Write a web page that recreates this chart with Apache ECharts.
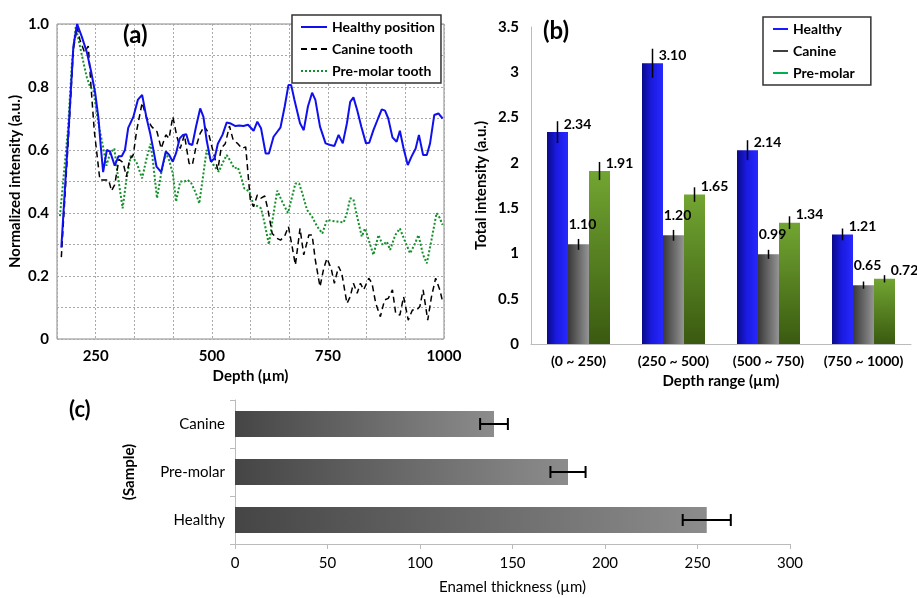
<!DOCTYPE html>
<html>
<head>
<meta charset="utf-8">
<script src="https://cdn.jsdelivr.net/npm/echarts@6/dist/echarts.min.js"></script>
<style>
  html, body { margin: 0; padding: 0; background: #fff; }
  #main { width: 917px; height: 598px; }
</style>
</head>
<body>
<div id="main"></div>
<script>
// (a) normalized intensity vs depth, [depth µm, intensity]
var healthyPosition = [[176,0.29],[193,0.70],[202,0.93],[210,1.0],[220,0.96],[231,0.91],[240,0.85],[249,0.78],[256,0.70],[261,0.61],[266,0.53],[274,0.60],[281,0.595],[291,0.55],[299,0.58],[306,0.58],[313,0.60],[320,0.67],[331,0.705],[341,0.76],[350,0.775],[359,0.705],[367,0.655],[373,0.61],[381,0.547],[391,0.53],[401,0.595],[408,0.585],[416,0.563],[423,0.59],[431,0.637],[438,0.648],[445,0.65],[451,0.62],[458,0.616],[466,0.674],[475,0.732],[482,0.705],[489,0.63],[498,0.563],[506,0.574],[513,0.62],[523,0.648],[532,0.687],[541,0.684],[551,0.676],[559,0.678],[568,0.676],[578,0.68],[590,0.661],[598,0.69],[606,0.669],[616,0.589],[623,0.589],[633,0.642],[641,0.658],[648,0.672],[657,0.738],[665,0.806],[671,0.806],[678,0.759],[690,0.685],[698,0.663],[707,0.738],[716,0.782],[723,0.759],[733,0.674],[745,0.621],[755,0.616],[764,0.613],[773,0.648],[782,0.621],[791,0.685],[798,0.753],[805,0.767],[813,0.727],[822,0.674],[832,0.621],[839,0.623],[848,0.663],[858,0.70],[866,0.729],[873,0.725],[880,0.70],[889,0.64],[898,0.626],[905,0.661],[913,0.605],[922,0.552],[930,0.579],[939,0.605],[946,0.648],[955,0.584],[963,0.584],[970,0.621],[979,0.711],[988,0.716],[997,0.70]];
var canineTooth = [[176,0.26],[193,0.68],[202,0.92],[210,0.99],[216,0.95],[226,0.91],[234,0.93],[240,0.80],[247,0.66],[254,0.57],[259,0.505],[270,0.505],[278,0.505],[284,0.47],[291,0.49],[300,0.57],[309,0.56],[316,0.515],[323,0.57],[331,0.585],[338,0.66],[350,0.75],[359,0.705],[370,0.675],[382,0.658],[391,0.605],[401,0.648],[408,0.637],[416,0.706],[425,0.642],[432,0.605],[441,0.648],[451,0.558],[458,0.552],[466,0.61],[475,0.653],[484,0.676],[493,0.653],[502,0.60],[513,0.537],[520,0.605],[529,0.62],[538,0.676],[546,0.632],[556,0.62],[565,0.605],[573,0.61],[583,0.44],[590,0.42],[598,0.457],[606,0.447],[614,0.454],[621,0.41],[630,0.335],[640,0.32],[648,0.314],[657,0.327],[665,0.357],[673,0.293],[680,0.235],[690,0.351],[698,0.267],[709,0.33],[716,0.33],[723,0.25],[733,0.166],[741,0.224],[748,0.256],[757,0.224],[764,0.177],[773,0.23],[780,0.208],[791,0.113],[798,0.134],[805,0.177],[813,0.145],[820,0.177],[827,0.156],[838,0.193],[845,0.177],[853,0.113],[863,0.071],[872,0.124],[880,0.129],[889,0.156],[896,0.081],[905,0.076],[913,0.134],[923,0.06],[932,0.092],[941,0.092],[948,0.103],[955,0.156],[965,0.06],[973,0.134],[982,0.193],[991,0.156],[997,0.119]];
var premolarTooth = [[173,0.39],[190,0.66],[199,0.88],[207,0.99],[216,0.93],[224,0.875],[231,0.83],[238,0.80],[245,0.79],[252,0.72],[259,0.66],[266,0.61],[273,0.55],[281,0.59],[290,0.605],[298,0.515],[308,0.415],[316,0.505],[326,0.585],[338,0.56],[350,0.51],[359,0.57],[368,0.62],[373,0.568],[382,0.447],[391,0.526],[401,0.59],[408,0.568],[416,0.526],[423,0.436],[432,0.50],[441,0.50],[448,0.505],[456,0.494],[466,0.462],[473,0.43],[481,0.515],[489,0.60],[498,0.568],[506,0.547],[515,0.531],[523,0.558],[532,0.584],[541,0.563],[548,0.542],[556,0.545],[563,0.515],[570,0.478],[581,0.468],[590,0.425],[598,0.422],[606,0.415],[613,0.372],[623,0.30],[633,0.40],[641,0.471],[650,0.441],[657,0.42],[664,0.40],[673,0.452],[680,0.494],[688,0.494],[695,0.462],[705,0.41],[716,0.388],[727,0.357],[738,0.335],[748,0.378],[759,0.375],[770,0.373],[784,0.37],[791,0.40],[798,0.447],[805,0.443],[813,0.388],[823,0.325],[830,0.351],[839,0.309],[848,0.267],[859,0.33],[868,0.298],[877,0.309],[884,0.283],[895,0.33],[905,0.351],[915,0.314],[927,0.272],[936,0.298],[945,0.33],[955,0.267],[963,0.24],[973,0.314],[984,0.40],[991,0.384],[997,0.362]];

// (b) total intensity by depth range
var depthRanges = ['(0 ~ 250)', '(250 ~ 500)', '(500 ~ 750)', '(750 ~ 1000)'];
var totalHealthy = [2.34, 3.10, 2.14, 1.21];
var totalCanine = [1.10, 1.20, 0.99, 0.65];
var totalPremolar = [1.91, 1.65, 1.34, 0.72];
var errHealthy = [0.12, 0.16, 0.11, 0.065];
var errCanine = [0.06, 0.06, 0.05, 0.04];
var errPremolar = [0.10, 0.08, 0.07, 0.04];

// (c) enamel thickness
var samples = ['Healthy', 'Pre-molar', 'Canine'];
var thickness = [255, 180, 140];
var thicknessErr = [13, 9.5, 7.5];

var FONT = 'Lato';
var BAR_W = 21;

var myChart = echarts.init(document.getElementById('main'), null, { renderer: 'canvas' });

function errSeries(vals, errs, offset) {
    return {
        type: 'custom',
        xAxisIndex: 1, yAxisIndex: 1,
        z: 5,
        silent: true,
        data: vals.map(function (v, i) { return [i, v, errs[i]]; }),
        encode: { x: 0, y: 1 },
        renderItem: function (params, api) {
            var i = api.value(0), v = api.value(1), e = api.value(2);
            var hi = api.coord([i, v + e]);
            var lo = api.coord([i, v - e]);
            var x = hi[0] + offset;
            return {
                type: 'line',
                shape: { x1: x, y1: hi[1], x2: x, y2: lo[1] },
                style: { stroke: '#000', lineWidth: 1.5 }
            };
        }
    };
}

function barLabel(off) {
    return {
        show: true, position: 'top', distance: 1, offset: off,
        formatter: function (p) { return p.value.toFixed(2); },
        fontFamily: FONT, fontWeight: 'bold', fontSize: 14, color: '#000'
    };
}

var blueGrad = new echarts.graphic.LinearGradient(0, 0, 1, 0, [
    { offset: 0, color: '#0a0a88' }, { offset: 0.45, color: '#1a1ae0' }, { offset: 1, color: '#2828ff' }]);
var grayGrad = new echarts.graphic.LinearGradient(0, 0, 1, 0, [
    { offset: 0, color: '#383838' }, { offset: 1, color: '#959595' }]);
var greenGrad = new echarts.graphic.LinearGradient(0, 0, 0, 1, [
    { offset: 0, color: '#72a532' }, { offset: 1, color: '#3a5a10' }]);
var thickGrad = new echarts.graphic.LinearGradient(0, 0, 1, 0, [
    { offset: 0, color: '#454545' }, { offset: 1, color: '#8c8c8c' }]);

myChart.setOption({
    animation: false,
    backgroundColor: '#fff',
    textStyle: { fontFamily: FONT },
    title: [
        { text: '(a)', left: 118, top: 18, textStyle: { fontFamily: FONT, fontSize: 24, fontWeight: 'bold', color: '#000' } },
        { text: '(b)', left: 538, top: 14, textStyle: { fontFamily: FONT, fontSize: 24, fontWeight: 'bold', color: '#000' } },
        { text: '(c)', left: 64, top: 394, textStyle: { fontFamily: FONT, fontSize: 22, fontWeight: 'bold', color: '#000' } }
    ],
    legend: [
        {
            data: ['Healthy position', 'Canine tooth', 'Pre-molar tooth'],
            orient: 'vertical', left: 292, top: 15,
            backgroundColor: '#fff', borderColor: '#333', borderWidth: 1.5,
            padding: [5, 6, 5, 8], itemGap: 8, itemWidth: 26, itemHeight: 12,
            itemStyle: { opacity: 0 },
            textStyle: { fontFamily: FONT, fontWeight: 'bold', fontSize: 14, color: '#000' }
        },
        {
            data: [
                { name: 'Healthy', itemStyle: { color: '#1a1aff' } },
                { name: 'Canine', itemStyle: { color: '#404040' } },
                { name: 'Pre-molar', itemStyle: { color: '#00b050' } }
            ],
            orient: 'vertical', left: 763, top: 17,
            backgroundColor: '#fff', borderColor: '#333', borderWidth: 1.5,
            padding: [5, 16, 5, 10], itemGap: 8, itemWidth: 15, itemHeight: 2, icon: 'rect',
            textStyle: { fontFamily: FONT, fontWeight: 'bold', fontSize: 14, color: '#000' }
        }
    ],
    grid: [
        { left: 57, top: 24, width: 387, height: 315, show: true, borderColor: '#888', borderWidth: 1 },
        { left: 531, top: 27, width: 380, height: 317 },
        { left: 235, top: 400, width: 555, height: 144 }
    ],
    xAxis: [
        {
            gridIndex: 0, type: 'value', min: 500 / 3, max: 1000, interval: 250 / 3,
            name: 'Depth (µm)', nameLocation: 'middle', nameGap: 30,
            nameTextStyle: { fontFamily: FONT, fontWeight: 'bold', fontSize: 15, color: '#000' },
            axisLine: { show: false }, axisTick: { show: false },
            axisLabel: {
                fontFamily: FONT, fontWeight: 'bold', fontSize: 15, color: '#000', margin: 10,
                formatter: function (v) { var r = Math.round(v); return r % 250 === 0 ? String(r) : ''; }
            },
            splitLine: { show: true, lineStyle: { color: '#aaa', type: [2, 2], width: 1 } }
        },
        {
            gridIndex: 1, type: 'category', data: depthRanges,
            name: 'Depth range (µm)', nameLocation: 'middle', nameGap: 30,
            nameTextStyle: { fontFamily: FONT, fontWeight: 'bold', fontSize: 15, color: '#000' },
            axisLine: { lineStyle: { color: '#bbb' } }, axisTick: { show: false },
            axisLabel: { interval: 0, fontFamily: FONT, fontWeight: 'bold', fontSize: 14, color: '#000', margin: 10 }
        },
        {
            gridIndex: 2, type: 'value', min: 0, max: 300, interval: 50,
            name: 'Enamel thickness (µm)', nameLocation: 'middle', nameGap: 36,
            nameTextStyle: { fontFamily: FONT, fontSize: 15, color: '#000' },
            axisLine: { show: true, lineStyle: { color: '#bbb' } },
            axisTick: { show: true, length: 5, lineStyle: { color: '#bbb' } },
            axisLabel: { fontFamily: FONT, fontSize: 15, color: '#000', margin: 12 },
            splitLine: { show: false }
        }
    ],
    yAxis: [
        {
            gridIndex: 0, type: 'value', min: 0, max: 1, interval: 0.1,
            name: 'Normalized intensity (a.u.)', nameLocation: 'middle', nameGap: 34,
            nameTextStyle: { fontFamily: FONT, fontWeight: 'bold', fontSize: 15, color: '#000' },
            axisLine: { show: false }, axisTick: { show: false },
            axisLabel: {
                fontFamily: FONT, fontWeight: 'bold', fontSize: 15, color: '#000', margin: 8,
                formatter: function (v) {
                    var k = Math.round(v * 10);
                    if (k % 2) return '';
                    return k === 0 ? '0' : (k / 10).toFixed(1);
                }
            },
            splitLine: { show: true, lineStyle: { color: '#aaa', type: [2, 2], width: 1 } }
        },
        {
            gridIndex: 1, type: 'value', min: 0, max: 3.5, interval: 0.5,
            name: 'Total intensity (a.u.)', nameLocation: 'middle', nameGap: 42,
            nameTextStyle: { fontFamily: FONT, fontWeight: 'bold', fontSize: 15, color: '#000' },
            axisLine: { show: true, lineStyle: { color: '#bbb' } },
            axisTick: { show: false },
            axisLabel: { fontFamily: FONT, fontWeight: 'bold', fontSize: 15, color: '#000', margin: 12 },
            splitLine: { show: false }
        },
        {
            gridIndex: 2, type: 'category', data: samples,
            name: '(Sample)', nameLocation: 'middle', nameGap: 98,
            nameTextStyle: { fontFamily: FONT, fontWeight: 'bold', fontSize: 15, color: '#000' },
            axisLine: { show: true, lineStyle: { color: '#bbb' } },
            axisTick: { show: true, length: 5, lineStyle: { color: '#bbb' } },
            axisLabel: { fontFamily: FONT, fontSize: 15, color: '#000', margin: 10 }
        }
    ],
    series: [
        {
            name: 'Healthy position', type: 'line', xAxisIndex: 0, yAxisIndex: 0,
            data: healthyPosition, symbol: 'none', z: 4,
            lineStyle: { color: '#1010ee', width: 2 }, itemStyle: { color: '#1010ee' }
        },
        {
            name: 'Canine tooth', type: 'line', xAxisIndex: 0, yAxisIndex: 0,
            data: canineTooth, symbol: 'none', z: 3,
            lineStyle: { color: '#000', width: 1.5, type: [6, 4] }, itemStyle: { color: '#000' }
        },
        {
            name: 'Pre-molar tooth', type: 'line', xAxisIndex: 0, yAxisIndex: 0,
            data: premolarTooth, symbol: 'none', z: 2,
            lineStyle: { color: '#13902a', width: 2, type: [2, 2] }, itemStyle: { color: '#13902a' }
        },
        {
            name: 'Healthy', type: 'bar', xAxisIndex: 1, yAxisIndex: 1,
            data: totalHealthy, barWidth: BAR_W, barGap: '0%',
            itemStyle: { color: blueGrad }, label: barLabel([20, 0])
        },
        {
            name: 'Canine', type: 'bar', xAxisIndex: 1, yAxisIndex: 1,
            data: totalCanine, barWidth: BAR_W, barGap: '0%',
            itemStyle: { color: grayGrad }, label: barLabel([4, -12])
        },
        {
            name: 'Pre-molar', type: 'bar', xAxisIndex: 1, yAxisIndex: 1,
            data: totalPremolar, barWidth: BAR_W, barGap: '0%',
            itemStyle: { color: greenGrad }, label: barLabel([20, 0])
        },
        errSeries(totalHealthy, errHealthy, -BAR_W),
        errSeries(totalCanine, errCanine, 0),
        errSeries(totalPremolar, errPremolar, BAR_W),
        {
            name: 'Enamel thickness', type: 'bar', xAxisIndex: 2, yAxisIndex: 2,
            data: thickness, barWidth: 26,
            itemStyle: { color: thickGrad }
        },
        {
            type: 'custom', xAxisIndex: 2, yAxisIndex: 2, z: 5, silent: true,
            data: thickness.map(function (v, i) { return [v, i, thicknessErr[i]]; }),
            encode: { x: 0, y: 1 },
            renderItem: function (params, api) {
                var v = api.value(0), i = api.value(1), e = api.value(2);
                var lo = api.coord([v - e, i]);
                var hi = api.coord([v + e, i]);
                var st = { stroke: '#000', lineWidth: 2 };
                return {
                    type: 'group',
                    children: [
                        { type: 'line', shape: { x1: lo[0], y1: lo[1], x2: hi[0], y2: hi[1] }, style: st },
                        { type: 'line', shape: { x1: lo[0], y1: lo[1] - 6, x2: lo[0], y2: lo[1] + 6 }, style: st },
                        { type: 'line', shape: { x1: hi[0], y1: hi[1] - 6, x2: hi[0], y2: hi[1] + 6 }, style: st }
                    ]
                };
            }
        }
    ]
});
</script>
</body>
</html>
